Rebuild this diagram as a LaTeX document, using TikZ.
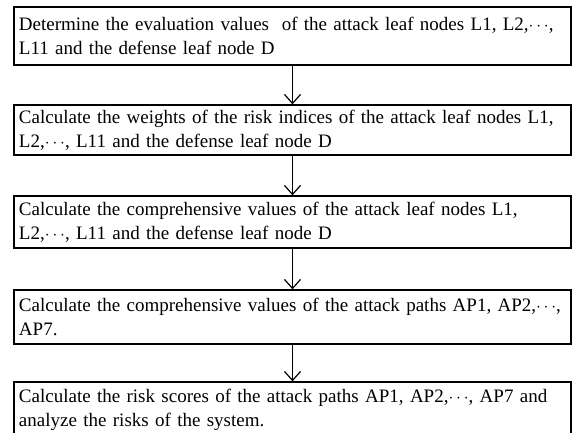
\documentclass[tikz,border=0pt]{standalone}
\usepackage{fontspec}
\setmainfont{Liberation Serif}
\usetikzlibrary{arrows.meta}

\begin{document}
\begin{tikzpicture}[x=1pt, y=-1pt,
    stepbox/.style = {draw, line width=1.3pt, minimum width=557pt, text width=547pt,
        inner xsep=5pt, inner ysep=0pt, align=left, font=\fontsize{19}{24}\selectfont},
    flow/.style = {line width=1.2pt, -{Straight Barb[length=9pt, width=16pt]}}]
        %define page and centre line of the boxes
        \useasboundingbox (0,0) rectangle (573,432);
        \def\cx{292.5}
        
        % evaluation values
        \node[stepbox, minimum height=58pt] (eval) at (\cx,36)
            {Determine the evaluation values\ \ of the attack leaf nodes L1, L2,$\cdots$,\\
             L11 and the defense leaf node D};
        
        % weights of the risk indices
        \node[stepbox, minimum height=50pt] (weight) at (\cx,130)
            {Calculate the weights of the risk indices of the attack leaf nodes L1,\\
             L2,$\cdots$, L11 and the defense leaf node D};
        
        % comprehensive values of the leaf nodes
        \node[stepbox, minimum height=52pt] (leafval) at (\cx,222)
            {Calculate the comprehensive values of the attack leaf nodes L1,\\
             L2,$\cdots$, L11 and the defense leaf node D};
        
        % comprehensive values of the paths
        \node[stepbox, minimum height=54pt] (pathval) at (\cx,317)
            {Calculate the comprehensive values of the attack paths AP1, AP2,$\cdots$,\\
             AP7.};
        
        % risk scores
        \node[stepbox, minimum height=56pt] (score) at (\cx,410)
            {Calculate the risk scores of the attack paths AP1, AP2,$\cdots$, AP7 and\\
             analyze the risks of the system.};
        
        %arrows between the steps
        \draw[flow] (eval.south) -- (weight.north);
        \draw[flow] (weight.south) -- (leafval.north);
        \draw[flow] (leafval.south) -- (pathval.north);
        \draw[flow] (pathval.south) -- (score.north);
    \end{tikzpicture}
\end{document}
